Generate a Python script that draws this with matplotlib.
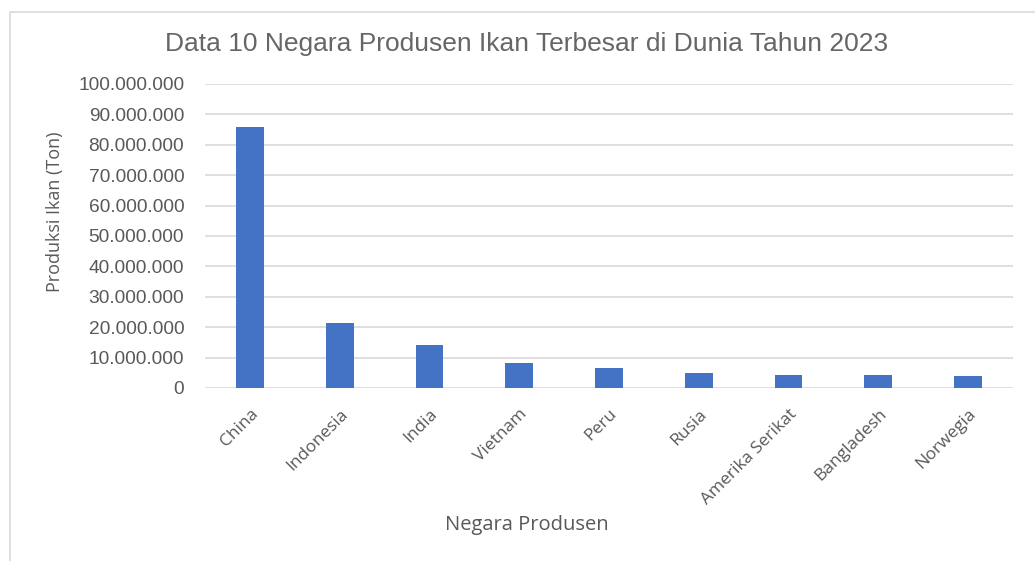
"""Bar chart: top fish producing countries 2023."""
import matplotlib
matplotlib.use("Agg")
import matplotlib.pyplot as plt
from matplotlib.patches import Rectangle
from matplotlib.ticker import FuncFormatter

countries = ["China", "Indonesia", "India", "Vietnam", "Peru", "Rusia",
             "Amerika Serikat", "Bangladesh", "Norwegia"]
production = [86_000_000, 21_300_000, 14_200_000, 8_200_000, 6_600_000,
              5_000_000, 4_400_000, 4_400_000, 3_800_000]
y_ticks = list(range(0, 100_000_001, 10_000_000))

TEXT = "#595959"
GRID = "#d9d9d9"
BAR = "#4472C4"


def dotted(v, _pos=None):
    return f"{int(v):,}".replace(",", ".")


fig = plt.figure(figsize=(10.35, 5.61), dpi=100)
fig.patch.set_facecolor("white")

# chart frame (cropped screenshot, only left/top edges visible)
fig.add_artist(Rectangle((10 / 1035, -0.1), 1.2, (561 - 12) / 561 + 0.1,
                         transform=fig.transFigure, fill=False,
                         edgecolor=GRID, linewidth=1.2))

ax = fig.add_axes([205 / 1035, (561 - 388) / 561, (1013 - 205) / 1035, (388 - 84) / 561])
x = range(len(countries))
ax.bar(x, production, width=0.31, color=BAR, zorder=3)

ax.set_ylim(0, 100_000_000)
ax.set_xlim(-0.5, len(countries) - 0.5)
ax.set_yticks(y_ticks)
ax.yaxis.set_major_formatter(FuncFormatter(dotted))
ax.grid(axis="y", color=GRID, linewidth=1.2, zorder=0)
ax.tick_params(axis="both", length=0, colors=TEXT)
for s in ax.spines.values():
    s.set_visible(False)

for lbl in ax.get_yticklabels():
    lbl.set_fontfamily("Liberation Sans")
    lbl.set_fontsize(13.8)
ax.tick_params(axis="y", pad=15)

ax.set_xticks(list(x))
ax.set_xticklabels(countries, rotation=45, ha="right", va="top",
                   rotation_mode="anchor", fontfamily="Open Sans",
                   fontsize=12.5, color=TEXT)
ax.tick_params(axis="x", pad=13)

fig.text(55 / 1035, 1 - 212 / 561, "Produksi Ikan (Ton)", rotation=90,
         ha="center", va="center", fontfamily="Open Sans", fontsize=13,
         color=TEXT)
fig.text(527 / 1035, 1 - 525 / 561, "Negara Produsen", ha="center", va="center",
         fontfamily="Open Sans", fontsize=14.5, color=TEXT)
fig.text(527 / 1035, 1 - 44 / 561,
         "Data 10 Negara Produsen Ikan Terbesar di Dunia Tahun 2023",
         ha="center", va="center", fontfamily="Liberation Sans", fontsize=19,
         color="#666666")

fig.savefig("out.png", dpi=100)
plt.close(fig)
